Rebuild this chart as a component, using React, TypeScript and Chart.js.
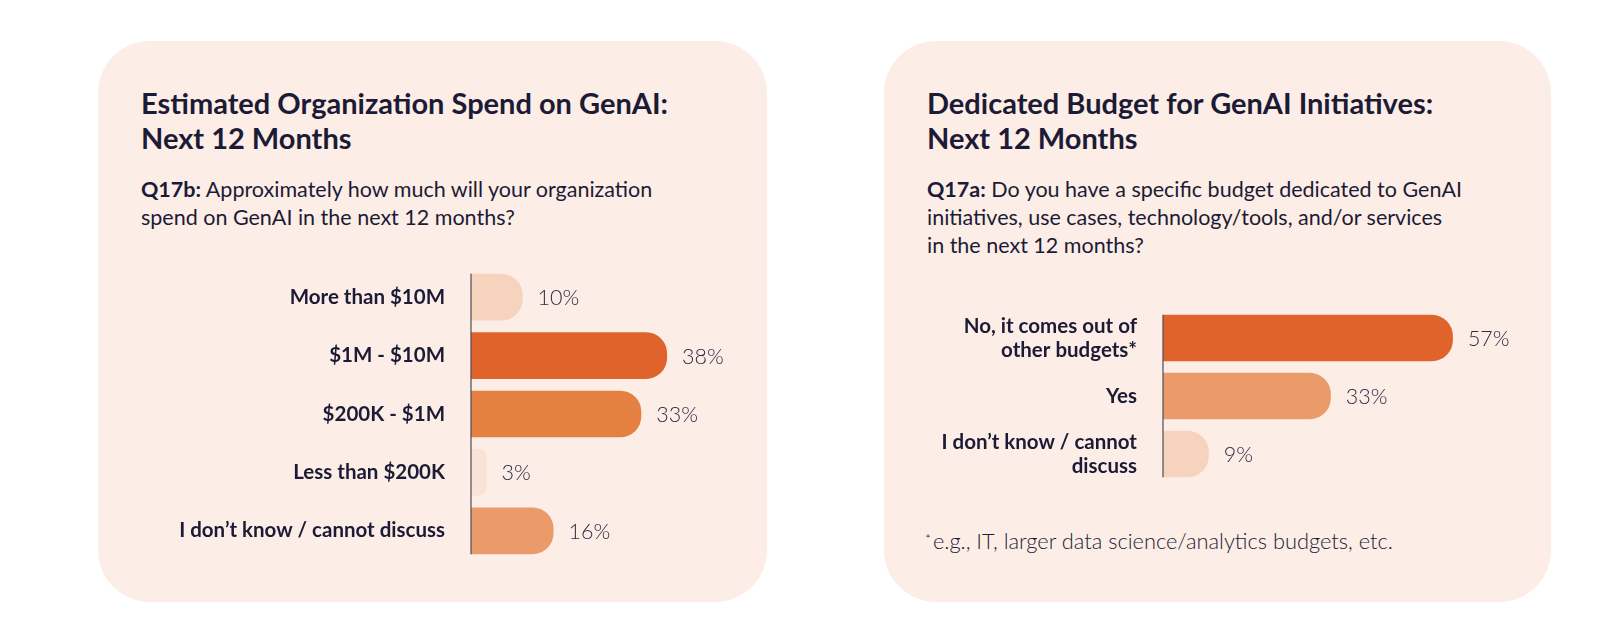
import React, { useEffect, useRef } from "react";
import { Chart, registerables } from "chart.js";

Chart.register(...registerables);

const FONT = "Lato";
const NAVY = "#1c1b36";
const CARD_BG = "#fcede6";

// Left chart data
const spendCategories = [
  "More than $10M",
  "$1M - $10M",
  "$200K - $1M",
  "Less than $200K",
  "I don\u2019t know / cannot discuss",
];
const spendValues = [10, 38, 33, 3, 16];
const spendColors = ["#f6d3bc", "#e0632c", "#e48042", "#f9e3d6", "#eb9b6a"];

// Right chart data
const budgetCategories = [
  ["No, it comes out of", "other budgets*"],
  "Yes",
  ["I don\u2019t know / cannot", "discuss"],
];
const budgetValues = [57, 33, 9];
const budgetColors = ["#e0632c", "#eb9b6a", "#f6d3bc"];

const barDecor = {
  id: "barDecor",
  afterDatasetsDraw(chart: any) {
    const ctx = chart.ctx;
    const meta = chart.getDatasetMeta(0);
    const data = chart.data.datasets[0].data;
    ctx.save();
    ctx.font = `300 21.5px ${FONT}`;
    ctx.fillStyle = "#2e2d44";
    ctx.textBaseline = "middle";
    ctx.textAlign = "left";
    meta.data.forEach((bar: any, i: number) => {
      ctx.fillText(`${data[i]}%`, bar.x + 15, bar.y + 1);
    });
    const first = meta.data[0];
    const last = meta.data[meta.data.length - 1];
    const x0 = chart.scales.x.getPixelForValue(0);
    ctx.strokeStyle = "#4b4a58";
    ctx.lineWidth = 1.2;
    ctx.beginPath();
    ctx.moveTo(x0, first.y - first.height / 2);
    ctx.lineTo(x0, last.y + last.height / 2);
    ctx.stroke();
    ctx.restore();
  },
};

type BarProps = {
  labels: any[];
  values: number[];
  colors: string[];
  max: number;
  axisWidth: number;
  padRight: number;
  width: number;
  height: number;
};

function BarChart({ labels, values, colors, max, axisWidth, padRight, width, height }: BarProps) {
  const ref = useRef<HTMLCanvasElement | null>(null);
  useEffect(() => {
    if (!ref.current) return;
    const chart = new Chart(ref.current, {
      type: "bar",
      data: {
        labels,
        datasets: [
          {
            data: values,
            backgroundColor: colors,
            borderWidth: 0,
            borderRadius: { topLeft: 0, bottomLeft: 0, topRight: 21, bottomRight: 21 },
            borderSkipped: "start",
            barPercentage: 0.8,
            categoryPercentage: 1,
          },
        ],
      },
      options: {
        indexAxis: "y",
        animation: false,
        responsive: false,
        maintainAspectRatio: false,
        layout: { padding: { top: 10, bottom: 10, right: padRight, left: 0 } },
        plugins: { legend: { display: false }, tooltip: { enabled: false } },
        scales: {
          x: { display: false, min: 0, max },
          y: {
            grid: { display: false, drawTicks: false },
            border: { display: false },
            afterFit: (s: any) => {
              s.width = axisWidth;
              s.paddingTop = 0;
              s.paddingBottom = 0;
            },
            ticks: {
              padding: 26,
              color: NAVY,
              font: { family: FONT, size: 20.5, weight: "bold", lineHeight: 1.17 },
            },
          },
        },
      },
      plugins: [barDecor],
    });
    return () => chart.destroy();
  }, []);
  return <canvas ref={ref} width={width} height={height} style={{ width, height, display: "block" }} />;
}

const cardStyle = (left: number, width: number): React.CSSProperties => ({
  position: "absolute",
  left,
  top: 41,
  width,
  height: 561,
  borderRadius: 52,
  background: CARD_BG,
});

const titleStyle: React.CSSProperties = {
  position: "absolute",
  left: 43,
  top: 44,
  fontFamily: FONT,
  fontWeight: 700,
  fontSize: 29,
  lineHeight: "35px",
  color: NAVY,
  whiteSpace: "nowrap",
};

const subStyle: React.CSSProperties = {
  position: "absolute",
  left: 43,
  top: 134,
  fontFamily: FONT,
  fontWeight: 400,
  fontSize: 21.5,
  lineHeight: "28px",
  color: NAVY,
  whiteSpace: "nowrap",
};

export default function App() {
  return (
    <div style={{ position: "absolute", left: 0, top: 0, width: 1600, height: 633, background: "#ffffff", overflow: "hidden" }}>
      <div style={cardStyle(98, 669)}>
        <div style={titleStyle}>
          Estimated Organization Spend on GenAI:
          <br />
          Next 12 Months
        </div>
        <div style={subStyle}>
          <b>Q17b:</b> Approximately how much will your organization
          <br />
          spend on GenAI in the next 12 months?
        </div>
        <div style={{ position: "absolute", left: 42, top: 217 }}>
          <BarChart
            labels={spendCategories}
            values={spendValues}
            colors={spendColors}
            max={50}
            axisWidth={331}
            padRight={31}
            width={620}
            height={312}
          />
        </div>
      </div>
      <div style={cardStyle(884, 667)}>
        <div style={titleStyle}>
          Dedicated Budget for GenAI Initiatives:
          <br />
          Next 12 Months
        </div>
        <div style={subStyle}>
          <b>Q17a:</b> Do you have a specific budget dedicated to GenAI
          <br />
          initiatives, use cases, technology/tools, and/or services
          <br />
          in the next 12 months?
        </div>
        <div style={{ position: "absolute", left: 16, top: 258 }}>
          <BarChart
            labels={budgetCategories}
            values={budgetValues}
            colors={budgetColors}
            max={70}
            axisWidth={263}
            padRight={21}
            width={640}
            height={194}
          />
        </div>
        <div
          style={{
            position: "absolute",
            left: 41,
            top: 484,
            fontFamily: FONT,
            fontWeight: 300,
            fontSize: 21.8,
            lineHeight: "27px",
            color: NAVY,
            whiteSpace: "nowrap",
          }}
        >
          <span style={{ fontSize: 14, verticalAlign: "5px", marginRight: 2 }}>*</span>e.g., IT, larger data science/analytics budgets, etc.
        </div>
      </div>
    </div>
  );
}
